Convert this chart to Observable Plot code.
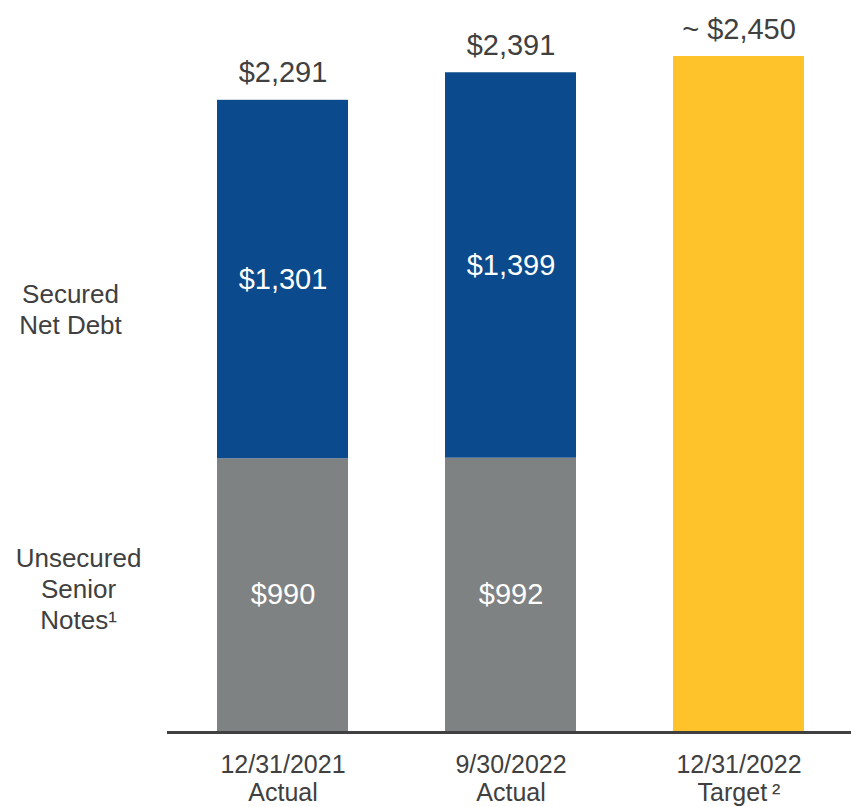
<!DOCTYPE html>
<html>
<head>
<meta charset="utf-8">
<script src="https://cdn.jsdelivr.net/npm/d3@7"></script>
<script src="https://cdn.jsdelivr.net/npm/@observablehq/plot@0.6"></script>
<style>
  html, body { margin: 0; padding: 0; background: #ffffff; }
  #chart svg { display: block; }
</style>
</head>
<body>
<div id="chart"></div>
<script>
// ---- data ----
const periods = ["12/31/2021", "9/30/2022", "12/31/2022"];
const periodSubs = ["Actual", "Actual", "Target\u2009²"];
const unsecured = [990, 992, null];
const secured = [1301, 1399, null];
const target = [null, null, 2450];
const totals = [2291, 2391, 2450];
const totalPrefix = ["", "", "~ "];
const segments = ["Unsecured Senior Notes", "Secured Net Debt", "Target"];
const segmentLabels = ["Unsecured\nSenior\nNotes¹", "Secured\nNet Debt"];
const colors = ["#7f8283", "#0b4a8c", "#fec22a"];

// ---- table ----
const rows = [];
periods.forEach((p, i) => {
  [unsecured[i], secured[i], target[i]].forEach((v, j) => {
    if (v != null) rows.push({period: p, segment: segments[j], value: v});
  });
});
const totalRows = periods.map((p, i) => ({
  period: p, total: totals[i], label: totalPrefix[i] + "$" + d3.format(",")(totals[i])
}));
const inner = rows.filter(d => d.segment !== "Target");
const firstRows = rows.filter(d => d.period === periods[0]);
const bottomRows = periods.map((p, i) => ({period: p, label: p + "\n" + periodSubs[i]}));

const fmt = v => "$" + d3.format(",")(v);
const textColor = "#404040";
const font = "Liberation Sans, Arial, Helvetica, sans-serif";

const chart = Plot.plot({
  width: 851,
  height: 807,
  marginLeft: 167,
  marginRight: 0,
  marginTop: 0,
  marginBottom: 76,
  style: {fontFamily: font, background: "#ffffff", overflow: "visible"},
  x: {domain: periods, range: [119, 903], padding: 0.424, axis: null},
  y: {domain: [0, 2450], range: [731, 56], axis: null},
  color: {domain: segments, range: colors},
  marks: [
    Plot.barY(rows, {x: "period", y: "value", fill: "segment", inset: 0}),
    Plot.text(inner, Plot.stackY({
      x: "period", y: "value", z: "segment",
      text: d => fmt(d.value),
      fill: "white", fontSize: 29, lineAnchor: "middle"
    })),
    Plot.text(totalRows, {
      x: "period", y: "total", text: "label",
      fill: textColor, fontSize: 29, lineAnchor: "bottom", dy: -18
    }),
    Plot.text(firstRows.filter(d => d.segment === segments[0]), Plot.stackY({
      y: "value", text: () => segmentLabels[0],
      frameAnchor: "left", dx: -89, dy: -7,
      fill: textColor, fontSize: 26, lineHeight: 1.2, lineAnchor: "middle", textAnchor: "middle"
    })),
    Plot.text(firstRows, Plot.stackY({
      y: "value", z: "segment",
      text: d => d.segment === segments[1] ? segmentLabels[1] : null,
      frameAnchor: "left", dx: -97, dy: 29,
      fill: textColor, fontSize: 26, lineHeight: 1.2, lineAnchor: "middle", textAnchor: "middle"
    })),
    Plot.ruleY([0], {stroke: "#404040", strokeWidth: 3, dy: 1}),
    Plot.text(bottomRows, {
      x: "period", text: "label", frameAnchor: "bottom",
      lineAnchor: "top", dy: 21, lineHeight: 1.14,
      fill: textColor, fontSize: 25
    })
  ]
});
document.getElementById("chart").appendChild(chart);
</script>
</body>
</html>
